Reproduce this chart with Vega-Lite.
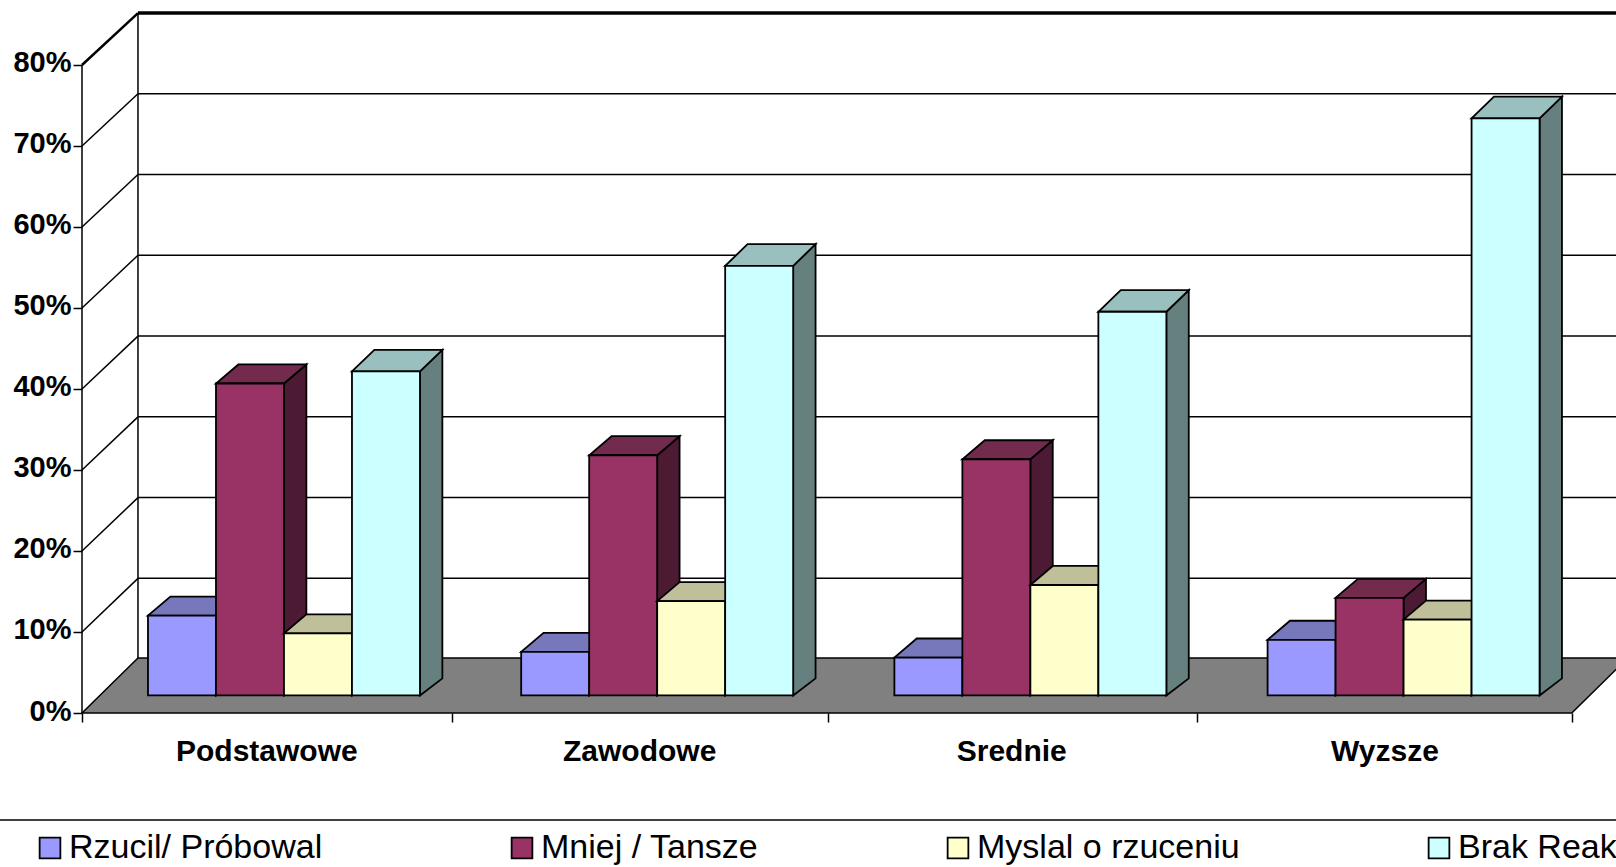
{
"$schema":"https://vega.github.io/schema/vega-lite/v6.json",
"autosize":{"type":"none"},
"padding":{"left":82,"top":0,"right":0,"bottom":154},
"width":1534,"height":713,
"background":"white",
"config":{"view":{"stroke":null},"font":"Liberation Sans"},
"datasets":{
"poziomy":[{"p":10},{"p":20},{"p":30},{"p":40},{"p":50},{"p":60},{"p":70},{"p":80}],
"podloga":[{"a":0,"b":0,"w":0},{"a":0.15,"b":6.8,"w":1},{"a":4.142,"b":6.8,"w":2},{"a":3.992,"b":0,"w":3}],
"slupki":[
{"grupa":"Podstawowe","seria":"Rzucil/ Próbowal","wartosc":9.9},
{"grupa":"Podstawowe","seria":"Mniej / Tansze","wartosc":38.7},
{"grupa":"Podstawowe","seria":"Myslal o rzuceniu","wartosc":7.7},
{"grupa":"Podstawowe","seria":"Brak Reakcji","wartosc":40.2},
{"grupa":"Zawodowe","seria":"Rzucil/ Próbowal","wartosc":5.4},
{"grupa":"Zawodowe","seria":"Mniej / Tansze","wartosc":29.8},
{"grupa":"Zawodowe","seria":"Myslal o rzuceniu","wartosc":11.7},
{"grupa":"Zawodowe","seria":"Brak Reakcji","wartosc":53.3},
{"grupa":"Srednie","seria":"Rzucil/ Próbowal","wartosc":4.7},
{"grupa":"Srednie","seria":"Mniej / Tansze","wartosc":29.3},
{"grupa":"Srednie","seria":"Myslal o rzuceniu","wartosc":13.7},
{"grupa":"Srednie","seria":"Brak Reakcji","wartosc":47.6},
{"grupa":"Wyzsze","seria":"Rzucil/ Próbowal","wartosc":6.9},
{"grupa":"Wyzsze","seria":"Mniej / Tansze","wartosc":12.1},
{"grupa":"Wyzsze","seria":"Myslal o rzuceniu","wartosc":9.4},
{"grupa":"Wyzsze","seria":"Brak Reakcji","wartosc":71.6}
]},
"layer":[
{"data":{"name":"poziomy"},
 "transform":[{"calculate":"6.65+0.997*datum.p","as":"q"}],
 "mark":{"type":"rule","color":"black"},
 "encoding":{
  "x":{"datum":0,"type":"quantitative","title":null,"scale":{"domain":[0,4.1104],"nice":false,"zero":false},
   "axis":{"values":[0,0.494,0.991,1.493,1.998,2.49,2.989,3.49,3.992],"title":null,"grid":false,"domain":false,"tickSize":9,"tickWidth":1.5,"tickColor":"black",
    "tickOpacity":{"condition":{"test":"datum.value==0||datum.value==0.991||datum.value==1.998||datum.value==2.989||datum.value==3.992","value":1},"value":0},
    "labelExpr":"datum.value==0.494?'Podstawowe':datum.value==1.493?'Zawodowe':datum.value==2.49?'Srednie':datum.value==3.49?'Wyzsze':''",
    "labelFont":"Liberation Sans","labelFontSize":30,"labelFontWeight":"bold","labelColor":"black","labelPadding":14,"labelOverlap":false,"labelFlush":false,"labelLimit":400}},
  "x2":{"datum":0.15},
  "y":{"field":"p","type":"quantitative","title":null,"scale":{"domain":[0,88.02],"nice":false,"zero":false},
   "axis":{"values":[0,10,20,30,40,50,60,70,80],"title":null,"grid":false,"domain":false,"tickSize":9,"tickWidth":1.5,"tickColor":"black",
    "labelExpr":"datum.value+'%'","labelFont":"Liberation Sans","labelFontSize":29,"labelFontWeight":"bold","labelColor":"black","labelPadding":2,"labelOffset":-2,"labelOverlap":false,"labelFlush":false}},
  "y2":{"field":"q"},
  "strokeWidth":{"condition":{"test":"datum.p==80","value":2.5},"value":1.5}
 }},
{"data":{"name":"poziomy"},
 "transform":[{"calculate":"6.65+0.997*datum.p","as":"q"}],
 "mark":{"type":"rule","color":"black"},
 "encoding":{
  "x":{"datum":0.15,"type":"quantitative","axis":null,"scale":{"domain":[0,4.1104],"nice":false,"zero":false}},
  "x2":{"datum":4.3},
  "y":{"field":"q","type":"quantitative","axis":null,"scale":{"domain":[0,88.02],"nice":false,"zero":false}},
  "strokeWidth":{"condition":{"test":"datum.p==80","value":3.5},"value":1.5}
 }},
{"data":{"values":[{"a":0,"b":0,"c":80},{"a":0.15,"b":6.8,"c":86.4}]},
 "mark":{"type":"rule","color":"black","strokeWidth":1.5},
 "encoding":{
  "x":{"field":"a","type":"quantitative","axis":null,"scale":{"domain":[0,4.1104],"nice":false,"zero":false}},
  "y":{"field":"b","type":"quantitative","axis":null,"scale":{"domain":[0,88.02],"nice":false,"zero":false}},
  "y2":{"field":"c"}
 }},
{"data":{"name":"podloga"},
 "mark":{"type":"line","interpolate":"linear-closed","fill":"#808080","stroke":"black","strokeWidth":1.5},
 "encoding":{
  "x":{"field":"a","type":"quantitative","axis":null,"scale":{"domain":[0,4.1104],"nice":false,"zero":false}},
  "y":{"field":"b","type":"quantitative","axis":null,"scale":{"domain":[0,88.02],"nice":false,"zero":false}},
  "order":{"field":"w","type":"quantitative"}
 }},
{"data":{"name":"slupki"},
 "transform":[
  {"calculate":"indexof(['Podstawowe','Zawodowe','Srednie','Wyzsze'],datum.grupa)","as":"g"},
  {"calculate":"indexof(['Rzucil/ Próbowal','Mniej / Tansze','Myslal o rzuceniu','Brak Reakcji'],datum.seria)","as":"s"},
  {"calculate":"datum.g+0.1768+datum.s*0.1822","as":"x0"},
  {"calculate":"datum.x0+0.1822","as":"x1"},
  {"calculate":"2.17+0.995*datum.wartosc","as":"yt"},
  {"calculate":"datum.s==3?2.67:2.35","as":"d"},
  {"calculate":"['side','top','front']","as":"sciana"},
  {"flatten":["sciana"]},
  {"calculate":"[0,1,2,3]","as":"w"},
  {"flatten":["w"]},
  {"calculate":"datum.sciana=='front'?[datum.x0,datum.x1,datum.x1,datum.x0][datum.w]:datum.sciana=='top'?[datum.x0,datum.x1,datum.x1+0.06,datum.x0+0.06][datum.w]:[datum.x1,datum.x1+0.06,datum.x1+0.06,datum.x1][datum.w]","as":"px"},
  {"calculate":"datum.sciana=='front'?[2.17,2.17,datum.yt,datum.yt][datum.w]:datum.sciana=='top'?[datum.yt,datum.yt,datum.yt+datum.d,datum.yt+datum.d][datum.w]:[2.17,4.27,datum.yt+datum.d,datum.yt][datum.w]","as":"py"},
  {"calculate":"datum.grupa+'|'+datum.seria+'|'+datum.sciana","as":"sciana_id"},
  {"calculate":"datum.seria+'|'+datum.sciana","as":"kolor"}
 ],
 "mark":{"type":"line","interpolate":"linear-closed","stroke":"black","strokeWidth":1.8,"strokeJoin":"miter"},
 "encoding":{
  "x":{"field":"px","type":"quantitative","axis":null,"scale":{"domain":[0,4.1104],"nice":false,"zero":false}},
  "y":{"field":"py","type":"quantitative","axis":null,"scale":{"domain":[0,88.02],"nice":false,"zero":false}},
  "detail":{"field":"sciana_id"},
  "order":{"field":"w","type":"quantitative"},
  "fill":{"field":"kolor","type":"nominal","legend":null,"scale":{
   "domain":["Rzucil/ Próbowal|front","Rzucil/ Próbowal|top","Rzucil/ Próbowal|side","Mniej / Tansze|front","Mniej / Tansze|top","Mniej / Tansze|side","Myslal o rzuceniu|front","Myslal o rzuceniu|top","Myslal o rzuceniu|side","Brak Reakcji|front","Brak Reakcji|top","Brak Reakcji|side"],
   "range":["#9999FF","#7777BB","#4D4D80","#993366","#732B4D","#4D1A33","#FFFFCC","#BFBF99","#808066","#CCFFFF","#99BFBF","#668080"]}}
 }},
{"data":{"name":"slupki"},
 "mark":{"type":"square","size":0,"opacity":1,"filled":true},
 "encoding":{
  "x":{"datum":0,"type":"quantitative","axis":null,"scale":{"domain":[0,4.1104],"nice":false,"zero":false}},
  "y":{"datum":0,"type":"quantitative","axis":null,"scale":{"domain":[0,88.02],"nice":false,"zero":false}},
  "fill":{"field":"seria","type":"nominal","scale":{"domain":["Rzucil/ Próbowal","Mniej / Tansze","Myslal o rzuceniu","Brak Reakcji"],"range":["#9999FF","#993366","#FFFFCC","#CCFFFF"]},
   "legend":{"title":null,"orient":"none","legendX":-49,"legendY":831,"direction":"horizontal","columns":4,"columnPadding":182,"symbolType":"square","symbolSize":430,"symbolStrokeColor":"black","symbolStrokeWidth":1.8,"labelFont":"Liberation Sans","labelFontSize":34,"labelColor":"black","labelLimit":600,"labelOffset":2,"padding":0}}
 }},
{"data":{"values":[{"y":-13.2}]},
 "mark":{"type":"rule","color":"black","strokeWidth":1.5},
 "encoding":{
  "x":{"datum":-0.3,"type":"quantitative","axis":null,"scale":{"domain":[0,4.1104],"nice":false,"zero":false}},
  "x2":{"datum":4.3},
  "y":{"field":"y","type":"quantitative","axis":null,"scale":{"domain":[0,88.02],"nice":false,"zero":false}}
 }}
],
"resolve":{"scale":{"fill":"independent"},"axis":{"x":"independent","y":"independent"}}
}
